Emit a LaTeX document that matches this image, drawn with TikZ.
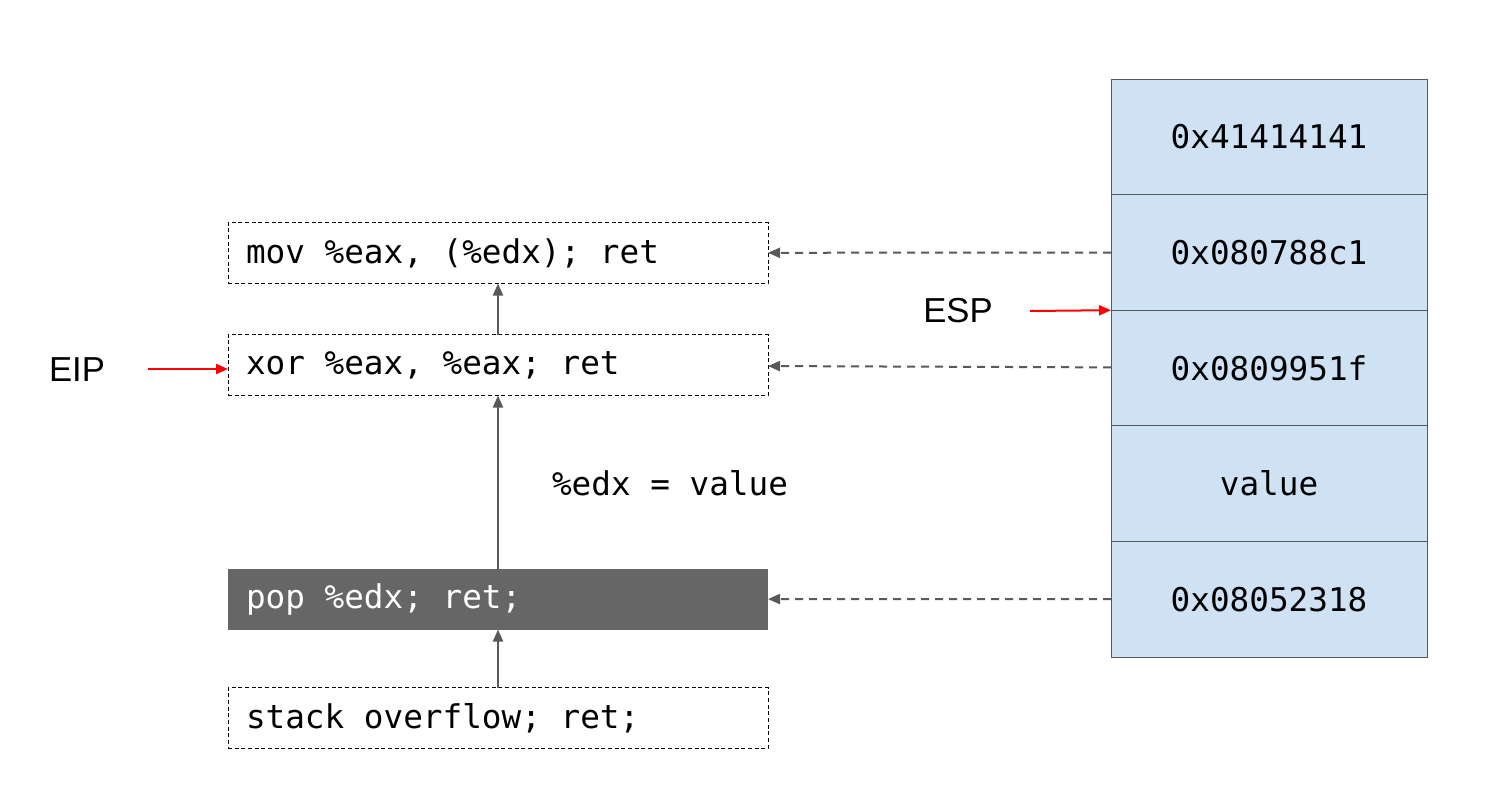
\documentclass[tikz,border=0pt]{standalone}
\usepackage{fontspec}
\setmainfont{Liberation Sans}
\newfontfamily\codefont{DejaVu Sans Mono}
\newcommand\codesize{\codefont\fontsize{24.5}{29}\selectfont}
\newcommand\gadgetline[1]{\makebox[378pt][l]{#1}}
\usetikzlibrary{arrows.meta}
\definecolor{stackblue}{HTML}{CFE2F3}
\definecolor{linegray}{HTML}{595959}
\definecolor{popgray}{HTML}{666666}

\begin{document}
\begin{tikzpicture}[x=0.75pt,y=-0.75pt,>={Triangle[length=9pt,width=7.5pt]},
    gadget/.style={draw, line width=0.75pt, dash pattern=on 3pt off 2pt,
      minimum height=45.75pt, inner xsep=13.5pt, outer sep=0pt, font=\codesize},
    cell/.style={draw=linegray, line width=0.75pt, fill=stackblue,
      minimum width=237pt, minimum height=86.7pt, outer sep=0pt,
      font=\codesize},
    flow/.style={linegray, line width=1.5pt, ->},
    link/.style={linegray, line width=1.5pt, dash pattern=on 6pt off 4.5pt, ->},
    pointer/.style={red, line width=1.5pt, ->},
    reg/.style={font=\fontsize{26}{30}\selectfont}]
    \useasboundingbox (0,0) rectangle (1510,796);
    % gadget chain
    \node[gadget] (mov) at (498,253) {\gadgetline{mov \%eax, (\%edx); ret}};
    \node[gadget] (xor) at (498,365) {\gadgetline{xor \%eax, \%eax; ret}};
    \node[gadget, solid, draw=none, fill=popgray, text=white] (pop) at (498,599) {\gadgetline{pop \%edx; ret;}};
    \node[gadget] (overflow) at (498,718) {\gadgetline{stack overflow; ret;}};
    \draw[flow] (overflow) -- (pop);
    \draw[flow] (pop) -- (xor);
    \draw[flow] (xor) -- (mov);
    \node[font=\codesize] (note) at (670,483) {\%edx = value};
    % stack
    \foreach \i/\val in {1/0x41414141, 2/0x080788c1, 3/0x0809951f, 4/value, 5/0x08052318}{
      \node[cell] (cell\i) at (1269,{79+115.6*(\i-0.5)}) {\val};
    }
    \draw[link] (cell2) -- (mov);
    \draw[link] (cell3) -- (xor);
    \draw[link] (cell5) -- (pop);
    % registers
    \node[reg] (esp) at (958,311) {ESP};
    \coordinate (esptail) at (1030,311);
    \draw[pointer] (esptail) -- (cell2.south west);
    \node[reg] (eip) at (77,370) {EIP};
    \coordinate (eiptail) at (148,369);
    \draw[pointer] (eiptail) -- (eiptail -| xor.west);
\end{tikzpicture}
\end{document}
